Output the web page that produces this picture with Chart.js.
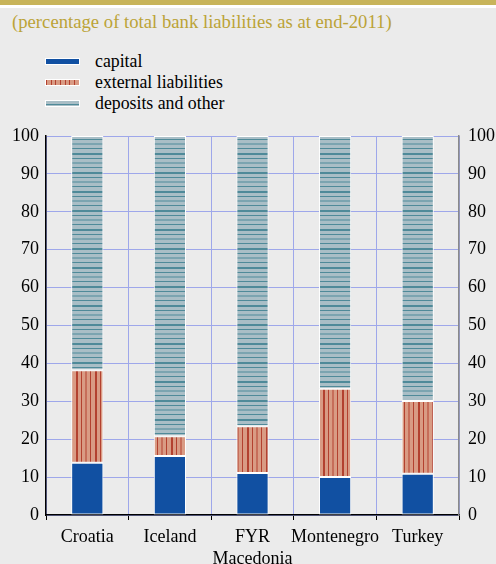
<!DOCTYPE html>
<html lang="en">
<head>
  <meta charset="UTF-8">
  <title>Bank liabilities</title>
  <script src="https://cdn.jsdelivr.net/npm/chart.js@4.4.1/dist/chart.umd.min.js"></script>
  <style>
    body { margin: 0; background: #ebebeb; font-family: "Liberation Serif", serif; width: 496px; height: 564px; overflow: hidden; }
    .topbar { height: 5px; background: #c8b45a; border-bottom: 3px solid #fff; }
    .subtitle { color: #bba337; font-size: 18.7px; margin: 3px 0 0 12px; height: 24px; line-height: 22px; white-space: nowrap; }
    .legend { position: absolute; left: 45px; top: 51px; }
    .legend div { height: 21px; font-size: 17.8px; line-height: 20px; position: relative; padding-left: 50px; white-space: nowrap; }
    .legend span { position: absolute; left: 0; top: 7px; width: 35px; height: 7px; border: 0.5px solid #fff; box-sizing: border-box; }
    .sw-cap { background: #1150a2; }
    .sw-ext { background: repeating-linear-gradient(to right, #b3412f 0 1px, #d99b84 1px 4.7px); }
    .sw-dep { background: linear-gradient(to bottom, #a9bec6 0 3px, #4f8a99 3px 4px, #a9bec6 4px 7px); }
    #wrap { position: absolute; left: 0; top: 115px; }
  </style>
</head>
<body>
  <div class="topbar"></div>
  <div class="subtitle">(percentage of total bank liabilities as at end-2011)</div>
  <div class="legend">
    <div><span class="sw-cap"></span>capital</div>
    <div><span class="sw-ext"></span>external liabilities</div>
    <div><span class="sw-dep"></span>deposits and other</div>
  </div>
  <div id="wrap"><canvas id="chart" width="496" height="449"></canvas></div>

  <script>
    const countries = ['Croatia', 'Iceland', ['FYR', 'Macedonia'], 'Montenegro', 'Turkey'];
    const capital = [13.8, 15.6, 11.1, 10.0, 10.9];
    const external = [24.4, 5.2, 12.3, 23.3, 19.2];
    const deposits = [61.8, 79.2, 76.6, 66.7, 69.9];
    const yTicks = [0, 10, 20, 30, 40, 50, 60, 70, 80, 90, 100];

    // hatch fills built on small tiles
    function makePattern(w, h, bg, fg, lines, vertical) {
      const c = document.createElement('canvas');
      c.width = w; c.height = h;
      const g = c.getContext('2d');
      g.fillStyle = bg;
      g.fillRect(0, 0, w, h);
      g.fillStyle = fg;
      lines.forEach(([pos, size]) => {
        if (vertical) g.fillRect(pos, 0, size, h);
        else g.fillRect(0, pos, w, size);
      });
      return g.createPattern(c, 'repeat');
    }
    const depFill = makePattern(4, 19, '#a9bec6', '#4f8a99', [[0, 2], [5, 1], [9.5, 1], [14, 1]], false);
    const extFill = makePattern(19, 4, '#d99b84', '#b3412f', [[0, 2], [5, 1], [9.5, 1], [14, 1]], true);

    Chart.defaults.font.family = '"Liberation Serif", serif';
    Chart.defaults.font.size = 18;
    Chart.defaults.color = '#000';

    const gridBlue = '#9ea7ea';

    new Chart(document.getElementById('chart'), {
      type: 'bar',
      data: {
        labels: countries,
        datasets: [
          { label: 'capital', data: capital, backgroundColor: '#1150a2' },
          { label: 'external liabilities', data: external, backgroundColor: extFill },
          { label: 'deposits and other', data: deposits, backgroundColor: depFill }
        ].map(d => Object.assign(d, {
          borderColor: '#ffffff', borderWidth: 1, borderSkipped: false,
          categoryPercentage: 1, barPercentage: 0.39
        }))
      },
      options: {
        responsive: false,
        devicePixelRatio: 1,
        animation: false,
        layout: { padding: { top: 21, left: 0, right: 0, bottom: 0 } },
        plugins: { legend: { display: false }, tooltip: { enabled: false } },
        scales: {
          x: {
            stacked: true,
            offset: true,
            grid: { offset: true, color: gridBlue, tickColor: '#000', tickLength: 5, drawTicks: true },
            border: { color: '#000', width: 1.5 },
            ticks: { padding: 6, maxRotation: 0, autoSkip: false, font: { lineHeight: 1.25 } },
            afterFit: s => { s.height = 49; }
          },
          y: {
            stacked: true,
            min: 0, max: 100,
            afterBuildTicks: s => { s.ticks = yTicks.map(v => ({ value: v })); },
            grid: { color: gridBlue, drawTicks: false },
            border: { color: '#000', width: 1.5 },
            ticks: { padding: 7 },
            afterFit: s => { s.width = 46; }
          },
          y2: {
            position: 'right',
            min: 0, max: 100,
            afterBuildTicks: s => { s.ticks = yTicks.map(v => ({ value: v })); },
            grid: { display: false, drawTicks: false },
            border: { color: '#8a8a8a', width: 1.5 },
            ticks: { padding: 9 },
            afterFit: s => { s.width = 37; }
          }
        }
      }
    });
  </script>
</body>
</html>
